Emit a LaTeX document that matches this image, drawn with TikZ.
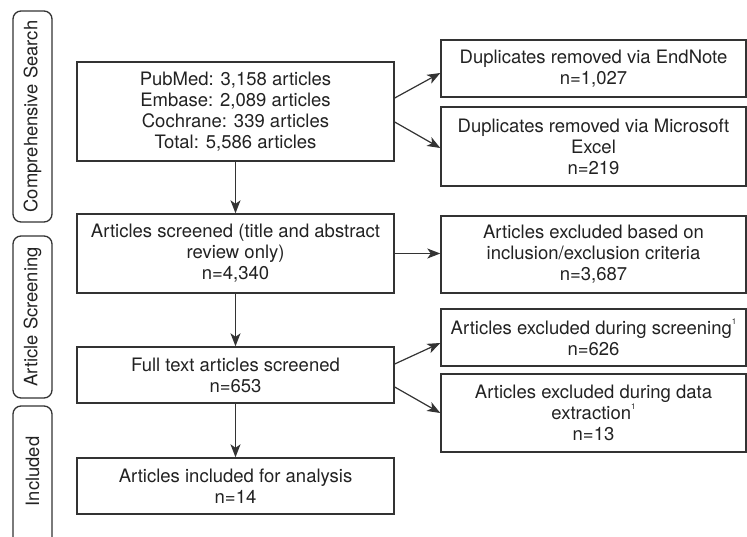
\documentclass[tikz,border=0pt]{standalone}
\usepackage{fontspec}
\setmainfont{TeX Gyre Heros}
\usetikzlibrary{arrows.meta}
\definecolor{txt}{HTML}{222222}
\definecolor{ln}{HTML}{333333}
\tikzset{
  box/.style={draw=ln, line width=1.4pt, rectangle, align=center, text=txt,
    font=\fontsize{18.5}{21}\selectfont, inner sep=0pt},
  side/.style={draw=ln, line width=1.3pt, rounded corners=8pt, inner sep=0pt, minimum width=39pt},
  sidetext/.style={text=txt, font=\fontsize{18.4}{21}\selectfont, rotate=90, inner sep=0pt},
  arr/.style={draw=ln, line width=1.2pt, -{Stealth[length=13pt,width=10pt,inset=3.5pt]}}
}
\newcommand{\supone}{\raisebox{0.55em}{\fontsize{8}{8}\selectfont 1}}
\begin{document}
\begin{tikzpicture}[x=1pt,y=-1pt]
\useasboundingbox (0,0) rectangle (747,536);
% side labels
\node[side, minimum height=211pt] (s1) at (32.5,116.5) {};
\node[sidetext] (s1t) at (s1.center) {Comprehensive Search};
\node[side, minimum height=162pt] (s2) at (32.5,317) {};
\node[sidetext] (s2t) at (s2.center) {Article Screening};
\node[side, minimum height=170pt] (s3) at (32.5,491) {};
\node[sidetext] (s3t) at ([yshift=-66pt]s3.north) {Included};
% left column
\node[box, minimum width=317pt, minimum height=99pt] (b1) at (235.5,111.5)
  {PubMed: 3,158 articles\\Embase: 2,089 articles\\Cochrane: 339 articles\\Total: 5,586 articles};
\node[box, minimum width=317pt, minimum height=79pt] (b2) at (235.5,253.5)
  {Articles screened (title and abstract\\review only)\\n=4,340};
\node[box, minimum width=317pt, minimum height=56pt] (b3) at (235.5,375)
  {Full text articles screened\\n=653};
\node[box, minimum width=317pt, minimum height=56pt] (b4) at (235.5,486)
  {Articles included for analysis\\n=14};
% right column
\node[box, minimum width=305pt, minimum height=57pt] (r1) at (593.5,68.5)
  {Duplicates removed via EndNote\\n=1,027};
\node[box, minimum width=305pt, minimum height=79pt] (r2) at (593.5,146.5)
  {Duplicates removed via Microsoft\\Excel\\n=219};
\node[box, minimum width=305pt, minimum height=77pt] (r3) at (593.5,254.5)
  {Articles excluded based on\\inclusion/exclusion criteria\\n=3,687};
\node[box, minimum width=305pt, minimum height=57pt] (r4) at (593.5,337.5)
  {Articles excluded during screening\supone\\n=626};
\node[box, minimum width=305pt, minimum height=78pt] (r5) at (593.5,413)
  {Articles excluded during data\\extraction\supone\\n=13};
% connectors
\draw[arr] (b1) -- (b2);
\draw[arr] (b2) -- (b3);
\draw[arr] (b3) -- (b4);
\draw[arr] ([yshift=13.5pt]b1.east) -- ([yshift=-4.5pt]r1.west);
\draw[arr] ([yshift=-10.5pt]b1.east) -- ([yshift=-1.5pt]r2.west);
\draw[arr] (b2.east) -- (b2.east -| r3.west);
\draw[arr] ([yshift=11pt]b3.east) -- ([yshift=-5.5pt]r4.west);
\draw[arr] ([yshift=-12pt]b3.east) -- (r5.west);
\end{tikzpicture}
\end{document}
